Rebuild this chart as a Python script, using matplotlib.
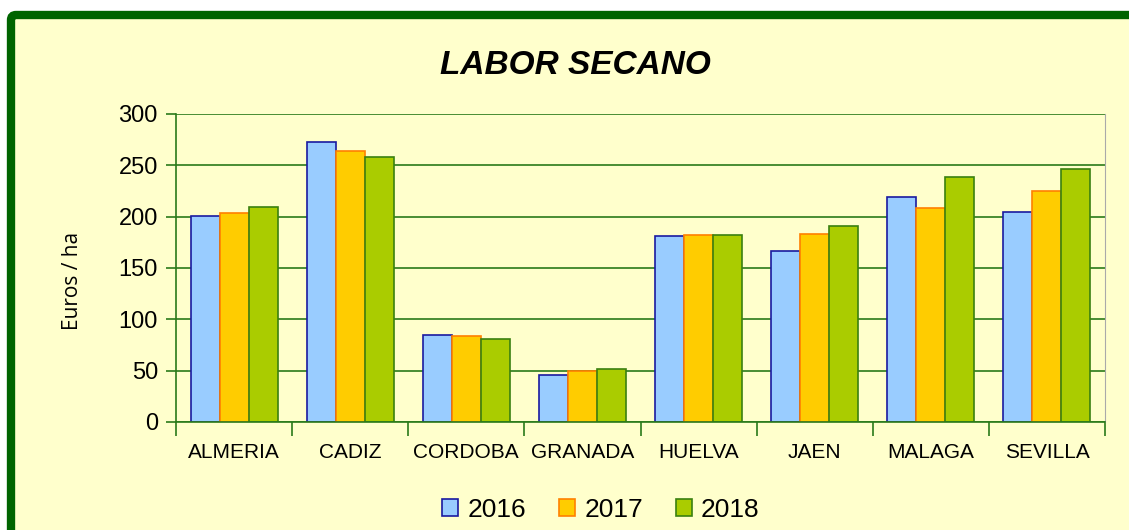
import matplotlib.pyplot as plt
import numpy as np
from matplotlib.patches import FancyBboxPatch
from matplotlib.transforms import IdentityTransform

# Data
provinces = ["ALMERIA", "CADIZ", "CORDOBA", "GRANADA", "HUELVA", "JAEN", "MALAGA", "SEVILLA"]
years = ["2016", "2017", "2018"]
v2016 = [201, 273, 85, 46, 181, 167, 219, 205]
v2017 = [204, 264, 84, 50, 182, 183, 208, 225]
v2018 = [209, 258, 81, 52, 182, 191, 239, 246]
yticks = [0, 50, 100, 150, 200, 250, 300]

fills = ['#99CCFF', '#FFCC00', '#AACC00']
edges = ['#1A1AA0', '#FF8000', '#3A8010']
bg = '#FFFFCC'
grid_green = '#2A7A1A'

plt.rcParams['font.family'] = ['Liberation Sans', 'DejaVu Sans']

W, H = 1129, 530
fig = plt.figure(figsize=(W / 100, H / 100), dpi=100)
fig.patch.set_facecolor('white')

# Background panel with thick green frame (pixel coords, runs off right/bottom)
frame = FancyBboxPatch((11, -60), 1200, H - 15 + 60,
                       boxstyle='round,pad=0,rounding_size=5',
                       transform=IdentityTransform(), facecolor=bg,
                       edgecolor='#006400', linewidth=6, zorder=-5)
fig.patches.append(frame)

ax = fig.add_axes([176 / W, 1 - 422 / H, (1105 - 176) / W, (422 - 114) / H])
ax.set_zorder(2)
ax.set_facecolor(bg)

x = np.arange(len(provinces))
bw = 0.25
for i, (vals, fc, ec, lab) in enumerate(zip([v2016, v2017, v2018], fills, edges, years)):
    ax.bar(x + (i - 1) * bw, vals, width=bw, color=fc, edgecolor=ec,
           linewidth=1.2, label=lab, zorder=3)

ax.set_xlim(-0.5, len(provinces) - 0.5)
ax.set_ylim(0, 300)
ax.set_yticks(yticks)
ax.yaxis.grid(True, color=grid_green, linewidth=1.2, zorder=1)

# category labels centred, tick marks on the boundaries
ax.set_xticks(np.arange(len(provinces) + 1) - 0.5)
ax.set_xticklabels([])
ax.set_xticks(x, minor=True)
ax.set_xticklabels(provinces, minor=True, fontsize=15)
ax.tick_params(axis='x', which='major', direction='out', length=10, color=grid_green, width=1.2)
ax.tick_params(axis='x', which='minor', length=0, pad=15)
ax.tick_params(axis='y', direction='out', length=7, color=grid_green, width=1.2,
               labelsize=17, pad=6)

ax.spines['top'].set_visible(False)
ax.spines['left'].set_color(grid_green)
ax.spines['bottom'].set_color(grid_green)
ax.spines['left'].set_linewidth(1.2)
ax.spines['bottom'].set_linewidth(1.2)
ax.spines['right'].set_color('#AAAAAA')
ax.spines['bottom'].set_zorder(4)

fig.text(73 / W, 1 - 281 / H, 'Euros / ha', rotation=90, ha='center', va='center',
         fontsize=15, family=['Open Sans', 'DejaVu Sans'])

fig.text(575 / W, 1 - 65 / H, 'LABOR SECANO', ha='center', va='center',
         fontsize=24, fontweight='bold', fontstyle='italic')

leg = fig.legend(loc='center', bbox_to_anchor=(601 / W, 1 - 510 / H), ncol=3,
                 frameon=False, fontsize=19, handlelength=0.6, handleheight=0.6,
                 handletextpad=0.35, columnspacing=1.25)

plt.savefig('out.png', dpi=100, facecolor=fig.get_facecolor())
